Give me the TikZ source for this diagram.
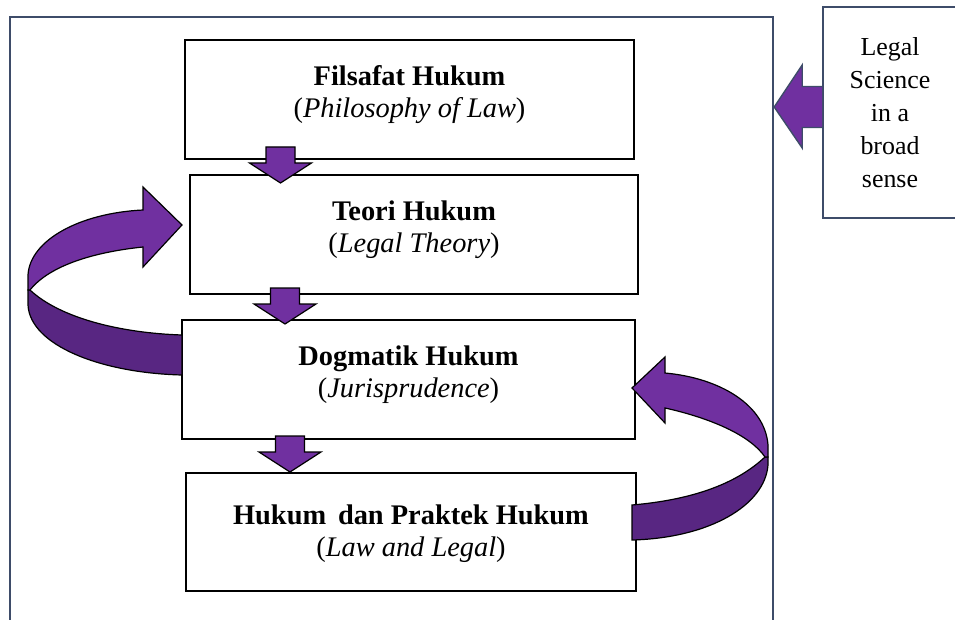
\documentclass[tikz,border=0pt]{standalone}
\usepackage{fontspec}
\setmainfont{Liberation Serif}
\usetikzlibrary{positioning}

\definecolor{lawpurple}{RGB}{112,48,160}
\definecolor{lawpurpledark}{RGB}{88,38,130}
\definecolor{framegray}{RGB}{62,76,105}

\tikzset{
    downblock/.pic={
        \filldraw[fill=lawpurple, draw=black, line width=1.2bp]
            (-14.5,0) -- (14.5,0) -- (14.5,16) -- (31,16) -- (0,36) -- (-31,16) -- (-14.5,16) -- cycle;
    }
}

\begin{document}
\begin{tikzpicture}[
    x=1bp, y=-1bp, line join=miter,
    layerbox/.style={draw=black, line width=1.6bp, minimum height=119bp, inner sep=0pt, outer sep=0pt,
        align=center, font=\fontsize{28.5}{32}\selectfont, text height=52bp, text depth=16bp},
    sidebox/.style={draw=framegray, line width=1.6bp, minimum width=134bp, minimum height=211bp,
        inner sep=0pt, align=center, font=\fontsize{26}{33}\selectfont},
    ribbon/.style={fill=lawpurple, draw=black, line width=1.2bp},
    ribbondark/.style={fill=lawpurpledark, draw=black, line width=1.2bp}
]

    \useasboundingbox (0,0) rectangle (955,620);
    \clip (0,0) rectangle (955,620);

    % Outer frame
    \draw[framegray, line width=1.6bp] (10,17) rectangle (773,640);

    % Layers
    \node[layerbox, minimum width=449bp] (filsafat) at (409.5,99.5)
        {\textbf{Filsafat Hukum}\\(\textit{Philosophy of Law})};
    \node[layerbox, minimum width=448bp, below=16bp of filsafat, xshift=4.5bp] (teori)
        {\textbf{Teori Hukum}\\(\textit{Legal Theory})};
    \node[layerbox, minimum width=453bp, below=26bp of teori, xshift=-5.5bp] (dogmatik)
        {\textbf{Dogmatik Hukum}\\(\textit{Jurisprudence})};
    \node[layerbox, minimum width=450bp, minimum height=118bp, text height=56bp, text depth=8bp,
          below=34bp of dogmatik, xshift=2.5bp] (praktek)
        {\textbf{Hukum\, dan Praktek Hukum}\\(\textit{Law and Legal})};

    % Side label
    \node[sidebox] (legal) at (890,112.5) {Legal\\Science\\in a\\broad\\sense};

    % Arrows between layers
    \pic at ([xshift=95.5bp, yshift=12bp]filsafat.south west) {downblock};
    \pic at ([xshift=95bp, yshift=6bp]teori.south west) {downblock};
    \pic at ([xshift=108bp, yshift=3bp]dogmatik.south west) {downblock};

    % Arrow from the side label
    \filldraw[fill=lawpurple, draw=framegray, line width=1.4bp]
        ([yshift=26bp]legal.west) -- ++(-20,0) -- ++(0,-21.5) -- ++(-28,42)
        -- ++(28,41) -- ++(0,-20.5) -- ++(20,0);

    % Curved arrow: Dogmatik back to Teori
    \filldraw[ribbondark] (30,290) .. controls (60,318) and (120,333) .. (182,335)
        -- (182,375) .. controls (100,373) and (30,345) .. (28,305) -- (28,290) -- cycle;
    \filldraw[ribbon] (143,187) -- (182,225) -- (143,267) -- (143,247)
        .. controls (95,252) and (50,265) .. (30,290) -- (28,290) -- (28,275)
        .. controls (30,240) and (80,213) .. (143,210) -- cycle;

    % Curved arrow: Praktek back to Dogmatik
    \filldraw[ribbondark] (765,457) .. controls (735,485) and (690,500) .. (632,505)
        -- (632,540) .. controls (710,538) and (765,505) .. (768,465) -- (768,457) -- cycle;
    \filldraw[ribbon] (665,357) -- (632,388) -- (665,423) -- (665,408)
        .. controls (710,418) and (750,435) .. (765,457) -- (768,457) -- (768,445)
        .. controls (765,405) and (720,378) .. (665,373) -- cycle;

\end{tikzpicture}
\end{document}
